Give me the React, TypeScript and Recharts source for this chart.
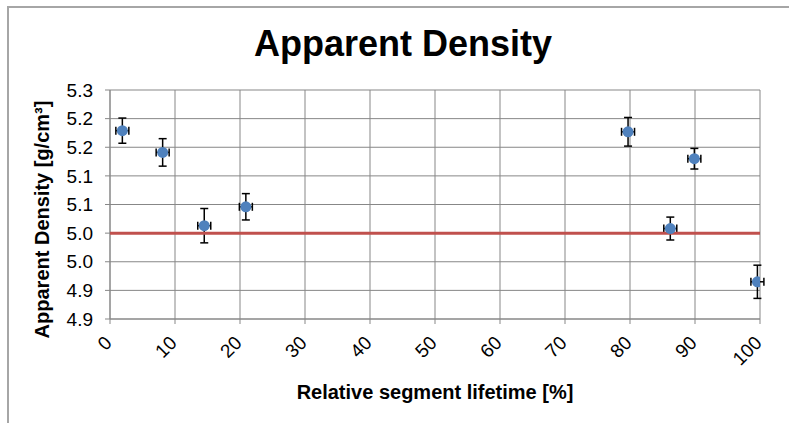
import React from 'react';
import { ScatterChart, Scatter, XAxis, YAxis, CartesianGrid, ErrorBar } from 'recharts';

// ---- data ----
const lifetime = [1.9, 8.1, 14.5, 20.9, 79.7, 86.2, 89.9, 99.6];
const density = [5.179, 5.141, 5.013, 5.046, 5.177, 5.008, 5.130, 4.915];
const densityErr = [0.022, 0.024, 0.030, 0.023, 0.025, 0.020, 0.018, 0.029];
const lifetimeErr = [1, 1, 1, 1, 1, 1, 1, 1];

const thresholdX = [0, 100];
const thresholdY = [5.0, 5.0];

const xTicks = [0, 10, 20, 30, 40, 50, 60, 70, 80, 90, 100];
const yTicks = [4.85, 4.9, 4.95, 5.0, 5.05, 5.1, 5.15, 5.2, 5.25];
const yTickLabels = ['4.9', '4.9', '5.0', '5.0', '5.1', '5.1', '5.2', '5.2', '5.3'];

const title = 'Apparent Density';
const xLabel = 'Relative segment lifetime [%]';
const yLabel = 'Apparent Density [g/cm³]';

const points = lifetime.map((x, i) => ({ x, y: density[i], xErr: lifetimeErr[i], yErr: densityErr[i] }));
const threshold = thresholdX.map((x, i) => ({ x, y: thresholdY[i] }));

const FONT = '"Liberation Sans", Arial, sans-serif';
const GRID = '#878787';

const XTick = (props: any) => {
  const { x, y, payload } = props;
  const ax = x + 3;
  const ay = y + 18;
  return (
    <text x={ax} y={ay} transform={`rotate(-45, ${ax}, ${ay})`} textAnchor="end" fontSize={19} fontFamily={FONT} fill="#000">
      {payload.value}
    </text>
  );
};

const Dot = (props: any) => {
  const { cx, cy } = props;
  return <circle cx={cx} cy={cy} r={5.5} fill="#4F81BD" />;
};

const NoDot = () => <g />;

export default function App() {
  return (
    <div style={{ position: 'absolute', left: 0, top: 0, width: 789, height: 423, overflow: 'hidden', background: '#fff', fontFamily: FONT }}>
      <div style={{ position: 'absolute', left: 7, top: 6, width: 900, height: 600, borderLeft: '2px solid #a6a6a6', borderTop: '2px solid #a6a6a6' }} />
      <div style={{ position: 'absolute', left: 8, top: 26, width: 790, textAlign: 'center', fontSize: 36, lineHeight: '36px', fontWeight: 'bold', color: '#000' }}>
        {title}
      </div>
      <div style={{ position: 'absolute', left: 0, top: 0 }}>
        <ScatterChart width={789} height={423} margin={{ top: 90, right: 29, bottom: 0, left: 0 }}>
          <CartesianGrid stroke={GRID} strokeWidth={1} horizontalValues={yTicks} verticalValues={xTicks} />
          <XAxis
            type="number"
            dataKey="x"
            domain={[0, 100]}
            ticks={xTicks}
            interval={0}
            height={104}
            stroke={GRID}
            tickSize={5}
            tick={<XTick />}
            allowDataOverflow
            label={(p: any) => {
              const vb = p.viewBox;
              return (
                <text x={vb.x + vb.width / 2} y={vb.y + 80} textAnchor="middle" fontSize={20} fontWeight="bold" fontFamily={FONT} fill="#000">
                  {xLabel}
                </text>
              );
            }}
          />
          <YAxis
            type="number"
            dataKey="y"
            domain={[4.85, 5.25]}
            ticks={yTicks}
            interval={0}
            width={110}
            stroke={GRID}
            tickSize={5}
            tickMargin={12}
            allowDataOverflow
            tickFormatter={(v: number, i: number) => yTickLabels[i]}
            tick={{ fontSize: 19, fill: '#000', fontFamily: FONT }}
            label={(p: any) => {
              const vb = p.viewBox;
              const cx = vb.x + 49;
              const cy = vb.y + vb.height / 2 + 15;
              return (
                <text x={0} y={0} transform={`translate(${cx}, ${cy}) rotate(-90)`} textAnchor="middle" fontSize={20} fontWeight="bold" fontFamily={FONT} fill="#000">
                  {yLabel}
                </text>
              );
            }}
          />
          <Scatter data={threshold} line={{ stroke: '#C0504D', strokeWidth: 3 }} shape={<NoDot />} isAnimationActive={false} />
          <Scatter data={points} shape={<NoDot />} isAnimationActive={false}>
            <ErrorBar dataKey="yErr" direction="y" width={4} stroke="#000" strokeWidth={1.5} />
            <ErrorBar dataKey="xErr" direction="x" width={4} stroke="#000" strokeWidth={1.5} />
          </Scatter>
          <Scatter data={points} shape={<Dot />} isAnimationActive={false} zIndex={2000} />
        </ScatterChart>
      </div>
    </div>
  );
}
